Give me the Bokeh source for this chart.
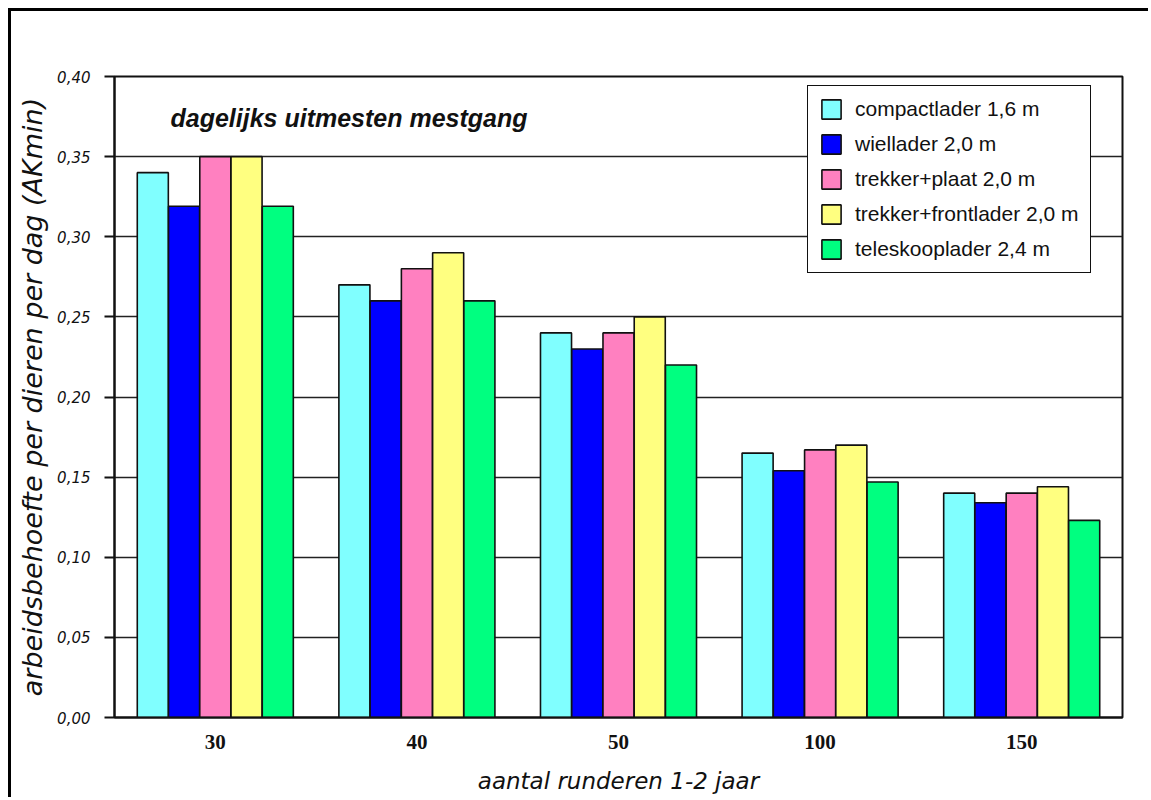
from bokeh.plotting import figure
from bokeh.models import (ColumnDataSource, FactorRange, Range1d, Legend, LegendItem,
                          Label, SingleIntervalTicker, CustomJSTickFormatter)
from bokeh.transform import dodge
from bokeh.embed import file_html
from bokeh.resources import INLINE

# ---- data ----
categories = ["30", "40", "50", "100", "150"]
series_names = ["compactlader 1,6 m", "wiellader 2,0 m", "trekker+plaat 2,0 m",
                "trekker+frontlader 2,0 m", "teleskooplader 2,4 m"]
compactlader = [0.340, 0.270, 0.240, 0.165, 0.140]
wiellader = [0.319, 0.260, 0.230, 0.154, 0.134]
trekker_plaat = [0.350, 0.280, 0.240, 0.167, 0.140]
trekker_frontlader = [0.350, 0.290, 0.250, 0.170, 0.144]
teleskooplader = [0.319, 0.260, 0.220, 0.147, 0.123]
y_ticks = [0.00, 0.05, 0.10, 0.15, 0.20, 0.25, 0.30, 0.35, 0.40]
title_text = "dagelijks uitmesten mestgang"
x_label = "aantal runderen 1-2 jaar"
y_label = "arbeidsbehoefte per dieren per dag (AKmin)"

colors = ["#80FFFF", "#0000FF", "#FF80C0", "#FFFF80", "#00FF80"]
values = [compactlader, wiellader, trekker_plaat, trekker_frontlader, teleskooplader]
keys = ["s0", "s1", "s2", "s3", "s4"]

data = {"x": categories}
for k, v in zip(keys, values):
    data[k] = v
source = ColumnDataSource(data)

p = figure(width=1140, height=789, output_backend="svg", toolbar_location=None,
           x_range=FactorRange(*categories, range_padding=0),
           y_range=Range1d(y_ticks[0], y_ticks[-1]),
           min_border_left=103, min_border_right=29, min_border_top=65,
           min_border_bottom=83)
p.styles = {"margin-left": "11px", "margin-top": "11px",
            "box-shadow": "-3px -3px 0px 0px black"}

p.background_fill_color = "white"
p.border_fill_color = "white"
p.outline_line_color = "#111111"
p.outline_line_width = 2

bar_w = 0.154
items = []
for i, (k, c, name) in enumerate(zip(keys, colors, series_names)):
    r = p.vbar(x=dodge("x", (i - 2) * 0.155, range=p.x_range), top=k, width=bar_w,
               source=source, fill_color=c, line_color="#111111", line_width=1.6)
    items.append(LegendItem(label=name, renderers=[r]))

# grid
p.xgrid.grid_line_color = None
p.ygrid.grid_line_color = "#222222"
p.ygrid.grid_line_width = 1.6
p.ygrid.ticker = SingleIntervalTicker(interval=0.05, num_minor_ticks=0)

# y axis
p.yaxis.ticker = SingleIntervalTicker(interval=0.05, num_minor_ticks=0)
p.yaxis.formatter = CustomJSTickFormatter(code="return tick.toFixed(2).replace('.', ',');")
p.yaxis.axis_line_color = "#111111"
p.yaxis.axis_line_width = 2
p.yaxis.major_tick_line_color = "#111111"
p.yaxis.major_tick_line_width = 2
p.yaxis.major_tick_out = 10
p.yaxis.major_tick_in = 0
p.yaxis.minor_tick_line_color = None
p.yaxis.major_label_text_font = "DejaVu Sans"
p.yaxis.major_label_text_font_style = "italic"
p.yaxis.major_label_text_font_size = "15px"
p.yaxis.major_label_text_color = "#111111"
p.yaxis.major_label_standoff = 14
p.yaxis.axis_label = y_label
p.yaxis.axis_label_text_font = "DejaVu Sans"
p.yaxis.axis_label_text_font_style = "italic"
p.yaxis.axis_label_text_font_size = "27px"
p.yaxis.axis_label_text_color = "#111111"
p.yaxis.axis_label_standoff = 6

# x axis
p.xaxis.axis_line_color = "#111111"
p.xaxis.axis_line_width = 2
p.xaxis.major_tick_line_color = None
p.xaxis.major_tick_out = 0
p.xaxis.major_tick_in = 0
p.xaxis.major_label_text_font = "Liberation Serif"
p.xaxis.major_label_text_font_style = "bold"
p.xaxis.major_label_text_font_size = "21px"
p.xaxis.major_label_text_color = "#111111"
p.xaxis.major_label_standoff = 17
p.xaxis.axis_label = x_label
p.xaxis.axis_label_text_font = "DejaVu Sans"
p.xaxis.axis_label_text_font_style = "italic"
p.xaxis.axis_label_text_font_size = "23px"
p.xaxis.axis_label_text_color = "#111111"
p.xaxis.axis_label_standoff = 16

# legend
legend = Legend(items=items, location=(693, 444), orientation="vertical",
                glyph_width=24, glyph_height=24, label_height=24,
                spacing=11, padding=11, label_standoff=12,
                label_text_font="Liberation Sans", label_text_font_size="21px",
                label_text_color="#111111",
                border_line_color="#111111", border_line_width=1.6,
                border_line_alpha=1.0,
                background_fill_color="white", background_fill_alpha=1.0)
p.add_layout(legend, "center")

# title inside plot
title = Label(x=56, y=600, x_units="screen", y_units="screen", text=title_text,
              text_font="Liberation Sans", text_font_style="bold italic",
              text_font_size="25px", text_color="#111111", text_baseline="middle")
p.add_layout(title)

open("out.html", "w").write(file_html(p, INLINE))
